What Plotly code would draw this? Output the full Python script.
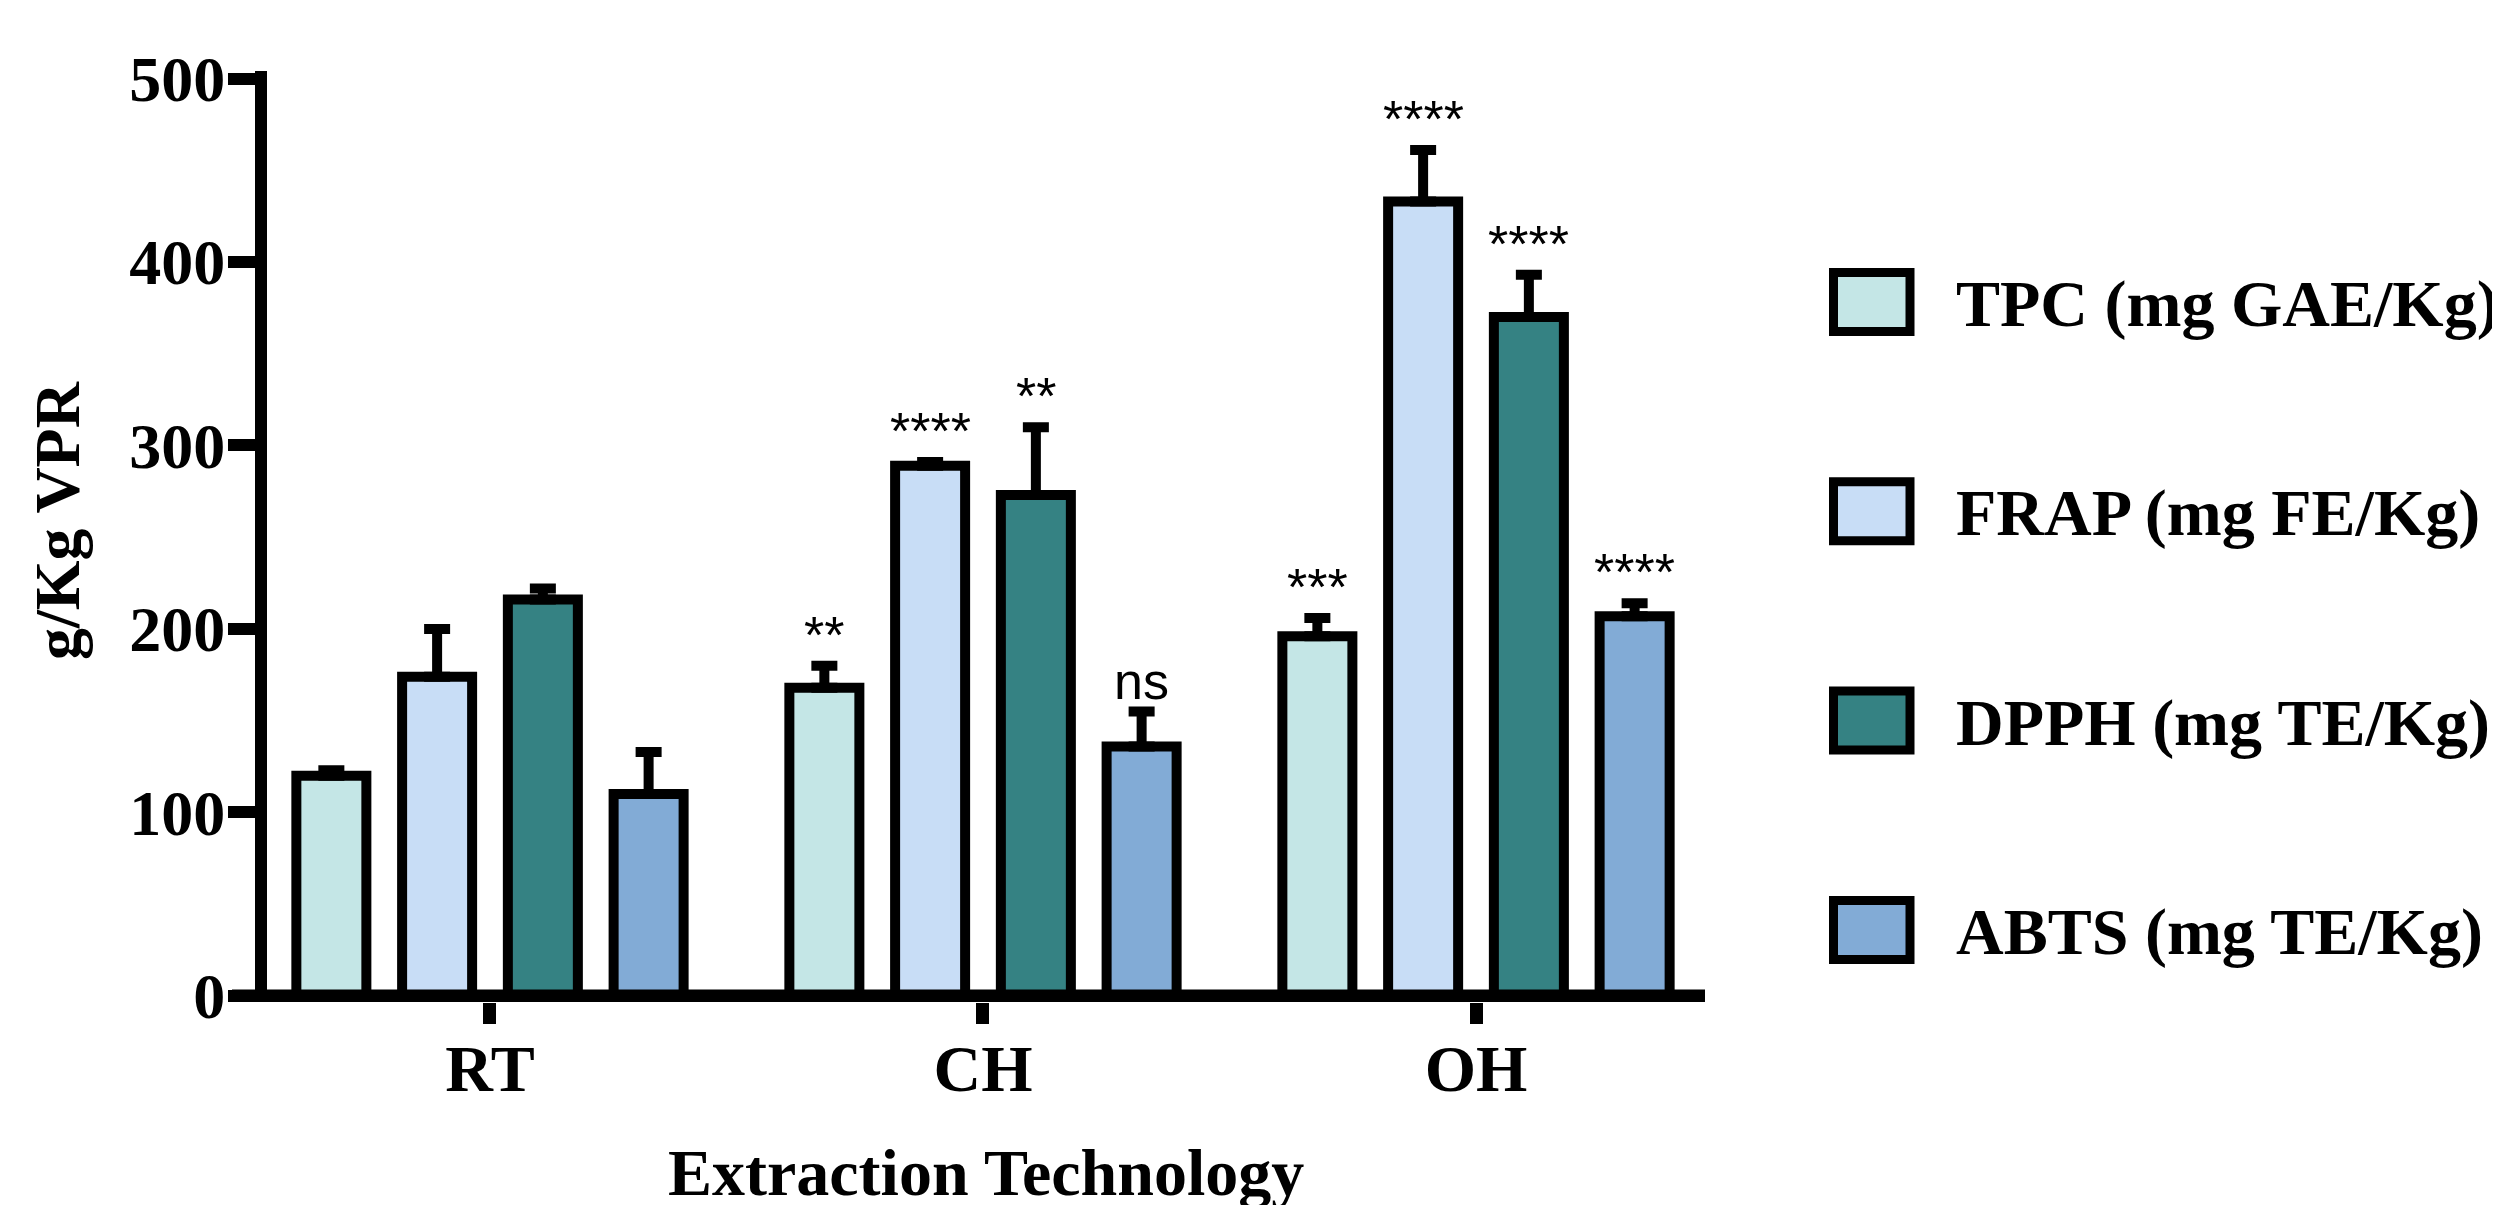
import plotly.graph_objects as go

# ---------------- data ----------------
categories = ["RT", "CH", "OH"]
series_names = ["TPC (mg GAE/Kg)", "FRAP (mg FE/Kg)", "DPPH (mg TE/Kg)", "ABTS (mg TE/Kg)"]

tpc = [120, 168, 196]
tpc_err = [3, 12, 10]
frap = [174, 289, 433]
frap_err = [26, 2, 28]
dpph = [216, 273, 370]
dpph_err = [6, 37, 23]
abts = [110, 136, 207]
abts_err = [23, 19, 7]

sig_tpc = ["", "**", "***"]
sig_frap = ["", "****", "****"]
sig_dpph = ["", "**", "****"]
sig_abts = ["", "ns", "****"]

y_ticks = [0, 100, 200, 300, 400, 500]

colors = ["#C4E6E6", "#C8DDF6", "#358283", "#82ABD6"]

# ---------------- layout geometry ----------------
OFF = 8                      # page body margin of the html file
W, H = 2500 - OFF, 1205 - OFF
L, R, T, B = 259, 795, 63, 203
PW = W - L - R
PH = H - T - B


def px_x(sx):
    """screen x (px) -> paper x"""
    return (sx - OFF - L) / PW


def px_y(sy):
    """screen y (px) -> paper y"""
    return (H - B - (sy - OFF)) / PH


BARGAP = 0.142
BARGROUPGAP = 0.338
SERIF = "Liberation Serif"
SANS = "Liberation Sans"

values = [tpc, frap, dpph, abts]
errors = [tpc_err, frap_err, dpph_err, abts_err]
sigs = [sig_tpc, sig_frap, sig_dpph, sig_abts]

fig = go.Figure()
for name, vals, errs, col in zip(series_names, values, errors, colors):
    fig.add_trace(go.Bar(
        x=categories, y=vals, name=name, showlegend=False,
        marker=dict(color=col, line=dict(color="black", width=10)),
        error_y=dict(type="data", symmetric=False, array=errs,
                     arrayminus=[0] * len(errs), color="black",
                     thickness=10, width=13),
    ))

annotations = []
n = len(values)
pitch = (1 - BARGAP) / n
for si, (vals, errs, labs) in enumerate(zip(values, errors, sigs)):
    for ci, (v, e, lab) in enumerate(zip(vals, errs, labs)):
        if not lab:
            continue
        annotations.append(dict(
            x=ci + (si - (n - 1) / 2) * pitch, y=v + e, xref="x", yref="y",
            text=lab, showarrow=False, xanchor="center", yanchor="bottom",
            yshift=0,
            font=dict(family=SANS, size=52, color="black"),
        ))

# axis titles
annotations.append(dict(
    x=px_x(57), y=px_y(521), xref="paper", yref="paper",
    text="g/Kg VPR", textangle=-90, showarrow=False,
    xanchor="center", yanchor="middle",
    font=dict(family=SERIF, size=64, color="black", weight="bold"),
))
annotations.append(dict(
    x=px_x(986), y=px_y(1172), xref="paper", yref="paper",
    text="Extraction Technology", showarrow=False,
    xanchor="center", yanchor="middle",
    font=dict(family=SERIF, size=66, color="black", weight="bold"),
))

shapes = []
# x-axis baseline (extends slightly left of the y axis)
shapes.append(dict(type="line", xref="paper", yref="y",
                   x0=px_x(232), x1=1.0, y0=0, y1=0,
                   line=dict(color="black", width=13)))

# manual legend
leg_y0 = 302
leg_dy = 209.3
for i, (name, col) in enumerate(zip(series_names, colors)):
    cy = leg_y0 + i * leg_dy
    shapes.append(dict(type="rect", xref="paper", yref="paper",
                       x0=px_x(1833.5), x1=px_x(1910),
                       y0=px_y(cy - 29.5), y1=px_y(cy + 29.5),
                       fillcolor=col, line=dict(color="black", width=9)))
    annotations.append(dict(
        x=px_x(1954), y=px_y(cy + 2), xref="paper", yref="paper",
        text=name, showarrow=False, xanchor="left", yanchor="middle",
        font=dict(family=SERIF, size=66, color="black", weight="bold"),
    ))

fig.update_layout(
    width=W, height=H,
    margin=dict(l=L, r=R, t=T, b=B, autoexpand=False),
    paper_bgcolor="white", plot_bgcolor="white",
    barmode="group", bargap=BARGAP, bargroupgap=BARGROUPGAP,
    showlegend=False,
    xaxis=dict(
        type="category", range=[-0.4523, 2.4645],
        showline=False, showgrid=False, zeroline=False,
        ticks="outside", ticklen=21, tickwidth=13, tickcolor="black",
        ticklabelstandoff=-12,
        tickfont=dict(family=SERIF, size=66, color="black", weight="bold"),
    ),
    yaxis=dict(
        range=[-3.3, 504.1], tickvals=y_ticks,
        showline=True, linewidth=12, linecolor="black",
        showgrid=False, zeroline=False,
        ticks="outside", ticklen=27, tickwidth=12, tickcolor="black",
        ticklabelstandoff=-10,
        tickfont=dict(family=SERIF, size=64, color="black", weight="bold"),
    ),
    annotations=annotations,
    shapes=shapes,
)

fig.write_html("out.html")
